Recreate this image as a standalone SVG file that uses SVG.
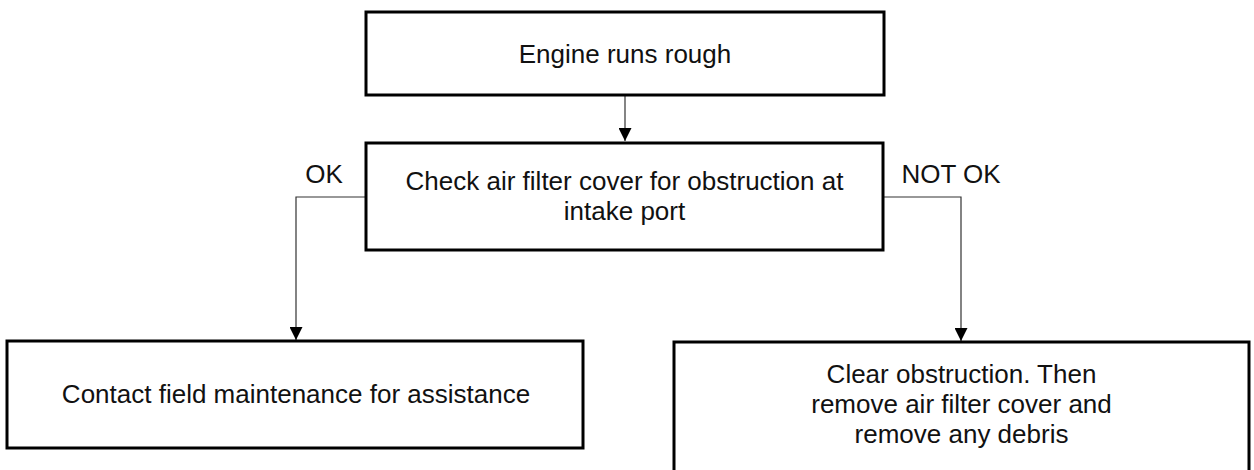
<svg xmlns="http://www.w3.org/2000/svg" width="1254" height="470" viewBox="0 0 1254 470">
  <style>
    .box { fill: #ffffff; stroke: #000000; stroke-width: 3; }
    .lbl { font-family: "Liberation Sans", Arial, sans-serif; font-size: 26px; fill: #111111; text-anchor: middle; }
    .edge { fill: none; stroke: #333333; stroke-width: 1.2; }
  </style>
  <defs>
    <marker id="arrow" markerUnits="userSpaceOnUse" markerWidth="13" markerHeight="13" refX="13" refY="6.5" orient="auto">
      <path d="M0,0 L13,6.5 L0,13 Z" fill="#000000"/>
    </marker>
  </defs>
  <rect width="1254" height="470" fill="#ffffff"/>
  <g id="connectors">
    <path class="edge" d="M625,96 L625,141" marker-end="url(#arrow)"/>
    <path class="edge" d="M366,197 L296,197 L296,340" marker-end="url(#arrow)"/>
    <path class="edge" d="M883,197 L961,197 L961,341" marker-end="url(#arrow)"/>
    <text class="lbl" x="324" y="183">OK</text>
    <text class="lbl" x="951" y="183">NOT OK</text>
  </g>
  <g id="node-engine">
    <rect class="box" x="366" y="12" width="518" height="83"/>
    <text class="lbl" x="625" y="63">Engine runs rough</text>
  </g>
  <g id="node-check">
    <rect class="box" x="366" y="143" width="517" height="107"/>
    <text class="lbl" x="624.5" y="190">Check air filter cover for obstruction at</text>
    <text class="lbl" x="624.5" y="220">intake port</text>
  </g>
  <g id="node-contact">
    <rect class="box" x="7" y="341" width="576" height="107"/>
    <text class="lbl" x="296" y="403">Contact field maintenance for assistance</text>
  </g>
  <g id="node-clear">
    <rect class="box" x="674" y="342" width="575" height="134"/>
    <text class="lbl" x="961.5" y="383">Clear obstruction. Then</text>
    <text class="lbl" x="961.5" y="413">remove air filter cover and</text>
    <text class="lbl" x="961.5" y="443">remove any debris</text>
  </g>
</svg>
